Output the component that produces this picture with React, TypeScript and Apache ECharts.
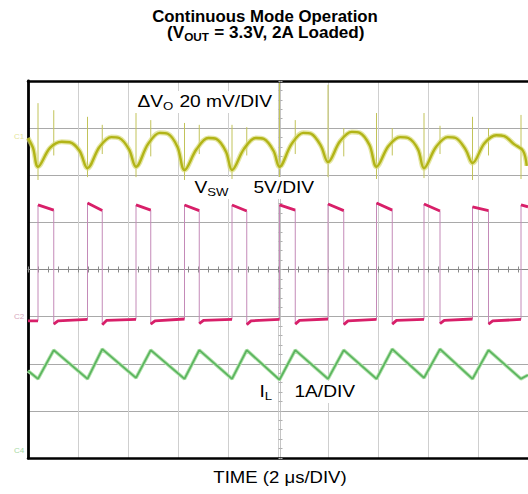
import React, { useEffect, useRef } from "react";
import * as echarts from "echarts";

// Horizontal: time in µs (2 µs/DIV, 10 divisions). Vertical: screen divisions (8).
const timeMin = 0;
const timeMax = 20;
const timeStep = 2;
const divMin = 0;
const divMax = 8;

// V_SW switch node (5 V/DIV): edge times (µs)
const swRise = [0.4, 2.38, 4.32, 6.26, 8.16, 10.06, 12.0, 13.94, 15.84, 17.78, 19.72];
const swFall = [1.03, 2.97, 4.91, 6.85, 8.75, 10.69, 12.63, 14.57, 16.48, 18.42];
const swTopStart = [5.37, 5.41, 5.37, 5.37, 5.37, 5.37, 5.39, 5.41, 5.39, 5.33, 5.37];
const swTopEnd = [5.26, 5.25, 5.26, 5.25, 5.24, 5.26, 5.25, 5.26, 5.24, 5.25];
const swLowAfterFall = [2.84, 2.83, 2.84, 2.85, 2.83, 2.84, 2.83, 2.84, 2.85, 2.84];
const swSettleTime = [1.2, 3.14, 5.08, 7.02, 8.92, 10.86, 12.8, 14.74, 16.65, 18.59];
const swSettleLevel = [2.91, 2.92, 2.91, 2.92, 2.91, 2.92, 2.91, 2.92, 2.92, 2.91];
const swLowBeforeRise = [2.91, 2.94, 2.94, 2.95, 2.94, 2.94, 2.95, 2.94, 2.94, 2.95, 2.94];

// I_L inductor current (1 A/DIV)
const ilStart = 1.85;
const ilValley = [1.68, 1.68, 1.7, 1.68, 1.68, 1.66, 1.68, 1.68, 1.7, 1.68, 1.68];
const ilPeak = [2.29, 2.31, 2.29, 2.29, 2.29, 2.29, 2.29, 2.31, 2.31, 2.29];

// ΔV_O output ripple (20 mV/DIV)
const voTime = [0, 0.2, 0.4, 0.88, 1.35, 1.67, 2.06, 2.38, 2.86, 3.33, 3.65, 4.04, 4.32, 4.8, 5.27, 5.59, 5.98, 6.26, 6.74, 7.21, 7.53, 7.92, 8.16, 8.64, 9.11, 9.43, 9.82, 10.06, 10.54, 11.01, 11.33, 11.72, 12.0, 12.48, 12.95, 13.27, 13.66, 13.94, 14.42, 14.89, 15.21, 15.6, 15.84, 16.32, 16.79, 17.11, 17.5, 17.78, 18.26, 18.73, 19.05, 19.44, 19.8, 19.95];
const voLevel = [6.79, 6.58, 6.18, 6.58, 6.71, 6.7, 6.52, 6.15, 6.6, 6.81, 6.79, 6.55, 6.18, 6.66, 6.9, 6.88, 6.6, 6.11, 6.55, 6.79, 6.77, 6.5, 6.11, 6.56, 6.79, 6.77, 6.52, 6.18, 6.66, 6.9, 6.88, 6.62, 6.28, 6.72, 6.92, 6.9, 6.64, 6.18, 6.62, 6.81, 6.79, 6.55, 6.15, 6.6, 6.81, 6.79, 6.55, 6.26, 6.68, 6.85, 6.83, 6.66, 6.52, 6.2];
// switching spikes on the ripple trace
const riseSpikeTop = [7.53, 7.24, 7.32, 7.11, 7.07, 7.96, 7.92, 7.32, 7.32, 7.24, 7.28];
const riseSpikeBottom = [5.9, 5.96, 5.96, 5.9, 5.92, 5.94, 5.96, 5.92, 5.94, 5.9, 5.92];
const fallSpikeTop = [7.38, 7.07, 7.17, 7.07, 7.02, 7.17, 7.0, 7.0, 7.05, 7.0];
const fallSpikeBottom = [6.42, 6.45, 6.4, 6.45, 6.42, 6.45, 6.4, 6.42, 6.45, 6.42];

const FONT = '"Liberation Sans", Arial, Helvetica, sans-serif';

function buildSw() {
  const pts: any[] = [[timeMin, swLowBeforeRise[0]]];
  for (let i = 0; i < swRise.length; i++) {
    pts.push([swRise[i], swLowBeforeRise[i]]);
    pts.push([swRise[i], swTopStart[i]]);
    if (i < swFall.length) {
      pts.push([swFall[i], swTopEnd[i]]);
      pts.push([swFall[i], swLowAfterFall[i]]);
      pts.push([swSettleTime[i], swSettleLevel[i]]);
    } else {
      pts.push([timeMax, swTopStart[i] - 0.04]);
    }
  }
  return pts;
}

function plateausOf(pts: any[]) {
  const out: any[] = [];
  pts.forEach((p, j) => {
    if (j > 0 && p[0] === pts[j - 1][0]) out.push([p[0], null]);
    out.push(p);
  });
  return out;
}

function buildIl() {
  const pts: any[] = [[timeMin, ilStart]];
  for (let i = 0; i < swRise.length; i++) {
    pts.push([swRise[i], ilValley[i]]);
    if (i < swFall.length) pts.push([swFall[i], ilPeak[i]]);
  }
  pts.push([timeMax, ilValley[ilValley.length - 1] + 0.08]);
  return pts;
}

function buildSpikes() {
  const s: any[] = [];
  swRise.forEach((t, i) => s.push([t, riseSpikeTop[i], riseSpikeBottom[i]]));
  swFall.forEach((t, i) => s.push([t, fallSpikeTop[i], fallSpikeBottom[i]]));
  return s;
}

const subRich = (size: number, weight: string) => ({
  base: { fontSize: size, fontFamily: FONT, fontWeight: weight, lineHeight: 20, verticalAlign: "middle" },
  sub: { fontSize: Math.round(size * 0.68), fontFamily: FONT, fontWeight: weight, lineHeight: 10, verticalAlign: "bottom" },
});

const LABEL_SIZE = 16;
const LABEL_STRETCH = 1.2;

function label(x: number, y: number, text: string) {
  return {
    type: "text",
    x,
    y,
    z: 100,
    scaleX: LABEL_STRETCH,
    style: {
      text,
      fill: "#000",
      fontSize: LABEL_SIZE,
      fontFamily: FONT,
      verticalAlign: "middle",
      align: "left",
      backgroundColor: "#fff",
      padding: [1, 2, 1, 2],
      rich: subRich(LABEL_SIZE, "normal"),
    },
  };
}

export default function App() {
  const ref = useRef<HTMLDivElement>(null);
  useEffect(() => {
    if (!ref.current) return;
    const chart = echarts.init(ref.current, null, { renderer: "svg" });
    const sw = buildSw();
    const plotH = 494 - 81 - 36;
    const plotW = 528 + 5 - 28;
    const hiddenAxis = {
      axisLabel: { show: false },
      splitLine: { show: false },
    };
    chart.setOption({
      animation: false,
      backgroundColor: "#fff",
      grid: { left: 28, right: -5, top: 81, bottom: 36, containLabel: false },
      xAxis: [
        {
          type: "value", min: timeMin, max: timeMax, interval: timeStep,
          position: "bottom",
          axisLine: { show: true, onZero: false, lineStyle: { color: "#000", width: 2.5 } },
          axisTick: { show: false }, axisLabel: { show: false },
          splitLine: { show: true, lineStyle: { color: "#cfcfcf", width: 1 } },
        },
        {
          type: "value", min: timeMin, max: timeMax, position: "top",
          axisLine: { show: true, onZero: false, lineStyle: { color: "#000", width: 2.5 } },
          axisTick: { show: false }, ...hiddenAxis,
        },
        {
          type: "value", min: timeMin, max: timeMax, interval: 0.4, position: "bottom", offset: -plotH / 2,
          axisLine: { show: true, onZero: false, lineStyle: { color: "#8a8a8a", width: 1 } },
          axisTick: { show: true, length: 3, inside: false, lineStyle: { color: "#8a8a8a" } }, ...hiddenAxis,
        },
        {
          type: "value", min: timeMin, max: timeMax, interval: 0.4, position: "bottom", offset: -plotH / 2,
          axisLine: { show: false, onZero: false },
          axisTick: { show: true, length: 3, inside: true, lineStyle: { color: "#8a8a8a" } }, ...hiddenAxis,
        },
      ],
      yAxis: [
        {
          type: "value", min: divMin, max: divMax, interval: 1, position: "left",
          axisLine: { show: true, onZero: false, lineStyle: { color: "#000", width: 2.8 } },
          axisTick: { show: false }, axisLabel: { show: false },
          splitLine: { show: true, lineStyle: { color: "#a9a9a9", width: 1 } },
        },
        {
          type: "value", min: divMin, max: divMax, interval: 0.2, position: "left", offset: -plotW / 2,
          axisLine: { show: true, onZero: false, lineStyle: { color: "#c4c4c4", width: 1 } },
          axisTick: { show: true, length: 2, inside: false, lineStyle: { color: "#b0b0b0" } }, ...hiddenAxis,
        },
        {
          type: "value", min: divMin, max: divMax, interval: 0.2, position: "left", offset: -plotW / 2,
          axisLine: { show: false, onZero: false },
          axisTick: { show: true, length: 2, inside: true, lineStyle: { color: "#b0b0b0" } }, ...hiddenAxis,
        },
      ],
      series: [
        {
          name: "I_L halo", type: "line", data: buildIl(), symbol: "none",
          lineStyle: { color: "#b4e3ae", width: 3.6 }, z: 3,
        },
        {
          name: "I_L", type: "line", data: buildIl(), symbol: "none",
          lineStyle: { color: "#5bb55f", width: 1.8 }, z: 4,
        },
        {
          name: "V_SW edges", type: "line", data: sw, symbol: "none",
          lineStyle: { color: "#c48ab8", width: 1 }, z: 5,
        },
        {
          name: "V_SW", type: "line", data: plateausOf(sw), symbol: "none", connectNulls: false,
          lineStyle: { color: "#d81f69", width: 2.8 }, z: 6,
        },
        {
          name: "spikes", type: "custom", data: buildSpikes(), z: 7,
          renderItem: (params: any, api: any) => {
            const a = api.coord([api.value(0), api.value(1)]);
            const b = api.coord([api.value(0), api.value(2)]);
            return {
              type: "line",
              shape: { x1: a[0], y1: a[1], x2: b[0], y2: b[1] },
              style: { stroke: "#c2c35a", lineWidth: 1 },
            };
          },
        },
        {
          name: "ΔV_O halo", type: "line", data: voTime.map((t, i) => [t, voLevel[i]]), symbol: "none",
          smooth: 0.35,
          lineStyle: { color: "#d9db7a", width: 5, opacity: 0.7 }, z: 8,
        },
        {
          name: "ΔV_O", type: "line", data: voTime.map((t, i) => [t, voLevel[i]]), symbol: "none",
          smooth: 0.35,
          lineStyle: { color: "#b2b417", width: 2.4 }, z: 9,
        },
      ],
      graphic: [
        {
          type: "text", x: 265, y: 16, scaleX: 1.05,
          style: {
            text: "Continuous Mode Operation", fill: "#000",
            fontSize: 16, fontWeight: "bold", fontFamily: FONT,
            align: "center", verticalAlign: "middle",
          },
        },
        {
          type: "text", x: 266, y: 33, scaleX: 1.07,
          style: {
            text: "{base|(V}{sub|OUT}{base| = 3.3V, 2A Loaded)}", fill: "#000",
            fontSize: 16, fontWeight: "bold", fontFamily: FONT,
            align: "center", verticalAlign: "middle",
            rich: subRich(16, "bold"),
          },
        },
        label(135, 102, "{base|ΔV}{sub|O}"),
        label(177, 102, "{base|20 mV/DIV}"),
        label(192, 188, "{base|V}{sub|SW}"),
        label(251, 188, "{base|5V/DIV}"),
        label(257, 392, "{base|I}{sub|L}"),
        label(292, 392, "{base|1A/DIV}"),
        {
          type: "text", x: 280, y: 477, scaleX: 1.16,
          style: {
            text: "TIME (2 μs/DIV)", fill: "#000",
            fontSize: 16, fontFamily: FONT,
            align: "center", verticalAlign: "middle",
          },
        },
        {
          type: "text", x: 14, y: 132,
          style: { text: "C1", fill: "#e4e49a", fontSize: 8, fontFamily: FONT },
        },
        {
          type: "text", x: 14, y: 312,
          style: { text: "C2", fill: "#d7a8bd", fontSize: 8, fontFamily: FONT },
        },
        {
          type: "text", x: 14, y: 446,
          style: { text: "C4", fill: "#a7d9a5", fontSize: 8, fontFamily: FONT },
        },
      ],
    });
    return () => chart.dispose();
  }, []);
  return (
    <div
      ref={ref}
      style={{ position: "absolute", left: 0, top: 0, width: 528, height: 494 }}
    />
  );
}
